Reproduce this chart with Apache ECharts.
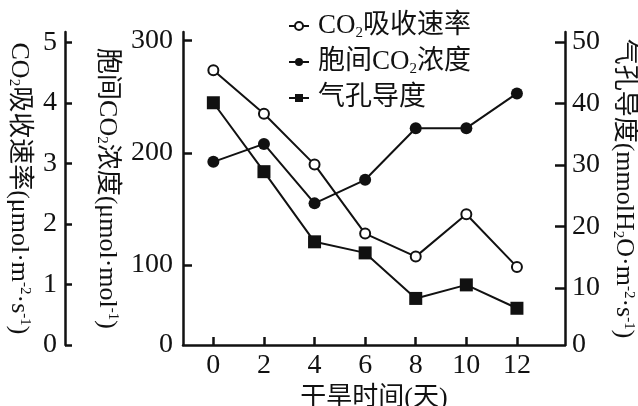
<!DOCTYPE html>
<html>
<head>
<meta charset="utf-8">
<script src="https://cdn.jsdelivr.net/npm/echarts@6/dist/echarts.min.js"></script>
<style>
  html, body { margin: 0; padding: 0; background: #fff; }
  #chart { width: 638px; height: 406px; }
</style>
</head>
<body>
<div id="chart"></div>
<script>
// Drought experiment: leaf gas exchange over days without watering
const days = [0, 2, 4, 6, 8, 10, 12];
const uptakeRate = [4.54, 3.82, 2.98, 1.84, 1.46, 2.16, 1.29];          // μmol·m⁻²·s⁻¹
const intercellularCO2 = [192, 208, 155, 176, 222, 222, 253];            // μmol·mol⁻¹
const stomatalConductance = [40.1, 28.9, 17.5, 15.7, 8.3, 10.5, 6.7];    // mmolH₂O·m⁻²·s⁻¹

const seriesNames = ['CO₂吸收速率', '胞间CO₂浓度', '气孔导度'];
const xAxisTitle = '干旱时间(天)';
const uptakeTitle = 'CO{sub|2}吸收速率(μmol·m{sup|-2}·s{sup|-1})';
const concTitle = '胞间CO{sub|2}浓度(μmol·mol{sup|-1})';
const conductTitle = '气孔导度(mmolH{sub|2}O·m{sup|-2}·s{sup|-1})';

const dayTicks = [0, 2, 4, 6, 8, 10, 12];
const uptakeTicks = [0, 1, 2, 3, 4, 5];
const concTicks = [100, 200, 300];
const conductTicks = [10, 20, 30, 40, 50];

// The concentration and conductance axes are shortened below their first tick;
// their bottom end carries the "0" label.
const concFloor = 28.8;
const conductFloor = 0.73;

const INK = '#111';
const FONT = "'Liberation Serif', 'Noto Sans CJK SC', serif";
const richParts = {
  sub: { fontSize: 15, verticalAlign: 'bottom', fontFamily: FONT, color: INK },
  sup: { fontSize: 15, verticalAlign: 'top', fontFamily: FONT, color: INK }
};

function pairs(values) { return days.map((d, i) => [d, values[i]]); }

function yAxisBase(opts) {
  return Object.assign({
    type: 'value',
    nameLocation: 'middle',
    nameRotate: -90,
    nameTextStyle: { fontSize: 26, fontFamily: FONT, color: INK, rich: richParts },
    splitLine: { show: false },
    axisLine: { show: true, onZero: false, lineStyle: { color: INK, width: 2.5 } },
    axisTick: { show: true, inside: true, length: 9, lineStyle: { color: INK, width: 2.5 } },
    axisLabel: { fontSize: 28, fontFamily: FONT, color: INK }
  }, opts);
}

const chart = echarts.init(document.getElementById('chart'), null, { renderer: 'canvas' });

chart.setOption({
  backgroundColor: '#fff',
  animation: false,
  grid: { left: 183, right: 73, top: 32, bottom: 61, containLabel: false, outerBoundsMode: 'none' },
  legend: {
    orient: 'vertical',
    left: 283,
    top: 6,
    itemWidth: 20,
    itemHeight: 10,
    itemGap: 6,
    data: seriesNames,
    textStyle: {
      fontSize: 27, fontFamily: FONT, color: INK, lineHeight: 30,
      padding: [0, 0, 0, 4], rich: richParts
    },
    formatter: name => name.replace('₂', '{sub|2}')
  },
  xAxis: {
    type: 'value',
    min: -1.2,
    max: 13.9,
    name: xAxisTitle,
    nameLocation: 'middle',
    nameGap: 26,
    nameTextStyle: { fontSize: 26, fontFamily: FONT, color: INK },
    splitLine: { show: false },
    axisLine: { show: true, onZero: false, lineStyle: { color: INK, width: 2.5 } },
    axisTick: { show: true, inside: true, length: 8, lineStyle: { color: INK, width: 2.5 }, customValues: dayTicks },
    axisLabel: { fontSize: 28, fontFamily: FONT, color: INK, margin: 7, customValues: dayTicks }
  },
  yAxis: [
    yAxisBase({
      position: 'left',
      offset: 118,
      min: 0,
      max: 5.17,
      name: uptakeTitle,
      nameGap: 30,
      axisTick: { show: true, inside: true, length: 7, lineStyle: { color: INK, width: 2.5 }, customValues: uptakeTicks },
      axisLabel: { fontSize: 28, fontFamily: FONT, color: INK, margin: 8, customValues: uptakeTicks }
    }),
    yAxisBase({
      position: 'left',
      min: concFloor,
      max: 307.7,
      name: concTitle,
      nameGap: 62,
      axisTick: { show: true, inside: true, length: 9, lineStyle: { color: INK, width: 2.5 }, customValues: concTicks },
      axisLabel: {
        fontSize: 28, fontFamily: FONT, color: INK, margin: 10,
        customValues: [concFloor].concat(concTicks),
        formatter: v => (v < concTicks[0] ? '0' : String(v))
      }
    }),
    yAxisBase({
      position: 'right',
      min: conductFloor,
      max: 51.6,
      name: conductTitle,
      nameGap: 40,
      axisTick: { show: true, inside: true, length: 10, lineStyle: { color: INK, width: 2.5 }, customValues: conductTicks },
      axisLabel: {
        fontSize: 28, fontFamily: FONT, color: INK, margin: 7,
        customValues: [conductFloor].concat(conductTicks),
        formatter: v => (v < conductTicks[0] ? '0' : String(v))
      }
    })
  ],
  series: [
    {
      name: seriesNames[0],
      type: 'line',
      yAxisIndex: 0,
      data: pairs(uptakeRate),
      symbol: 'circle',
      symbolSize: 10,
      lineStyle: { color: INK, width: 2 },
      itemStyle: { color: '#fff', borderColor: INK, borderWidth: 2 },
      z: 4
    },
    {
      name: seriesNames[1],
      type: 'line',
      yAxisIndex: 1,
      data: pairs(intercellularCO2),
      symbol: 'circle',
      symbolSize: 12,
      lineStyle: { color: INK, width: 2 },
      itemStyle: { color: INK },
      z: 3
    },
    {
      name: seriesNames[2],
      type: 'line',
      yAxisIndex: 2,
      data: pairs(stomatalConductance),
      symbol: 'rect',
      symbolSize: 13,
      lineStyle: { color: INK, width: 2 },
      itemStyle: { color: INK },
      z: 3
    }
  ]
});
</script>
</body>
</html>
